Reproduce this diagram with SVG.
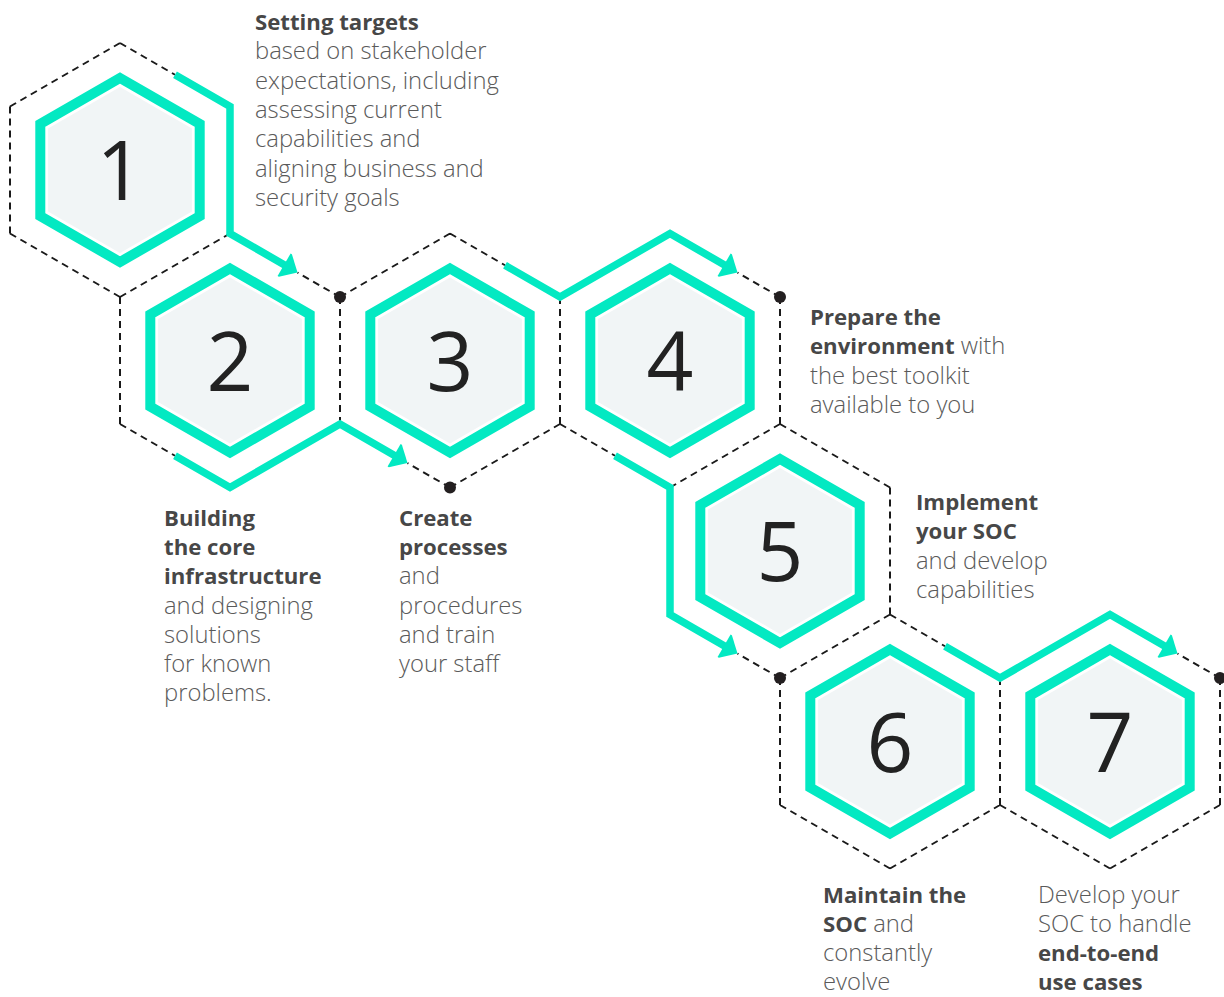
<svg xmlns="http://www.w3.org/2000/svg" width="1224" height="997" viewBox="0 0 1224 997">
  <defs>
    <style>
      .dash { fill: none; stroke: #1a1a1a; stroke-width: 2; stroke-dasharray: 7 5; }
      .ring { fill: none; stroke: #03e9c2; stroke-width: 10; stroke-linejoin: miter; }
      .core { fill: #f1f5f6; }
      .flow { fill: none; stroke: #03e9c2; stroke-width: 7.5; stroke-linejoin: miter; stroke-miterlimit: 10; marker-end: url(#head); }
      .dot { fill: #231f20; }
      .num { font-family: "Open Sans", "Liberation Sans", sans-serif; font-size: 82px; font-weight: 400; fill: #222222; text-anchor: middle; }
      .txt { font-family: "Open Sans", "Liberation Sans", sans-serif; font-size: 23.8px; font-weight: 300; fill: #5a5a5a; }
      .b { font-weight: 700; font-size: 22.2px; fill: #474747; }
    </style>
    <marker id="head" markerUnits="userSpaceOnUse" orient="auto" markerWidth="30" markerHeight="30" refX="0" refY="0" viewBox="-2 -15 18 30" overflow="visible">
      <path d="M-1.5,-13 L0,-13 L14,0 L0,13 L-1.5,13 Z" fill="#03e9c2"/>
    </marker>
    <!-- pointy-top hexagon outlines, centred on the origin -->
    <polygon id="ring" points="0,-92 79.7,-46 79.7,46 0,92 -79.7,46 -79.7,-46"/>
    <polygon id="core" points="0,-83 71.9,-41.5 71.9,41.5 0,83 -71.9,41.5 -71.9,-41.5"/>
  </defs>

  <rect width="1224" height="997" fill="#ffffff"/>

  <!-- dashed honeycomb outline, each shared edge drawn once -->
  <g id="grid">
    <path class="dash" d="M10,106.5 L120,43 M120,43 L175,74.75 M230,233.5 L120,297 M120,297 L10,233.5 M10,233.5 L10,106.5"/>
    <path class="dash" d="M340,297 L297.5,272.5 M340,297 L340,424 M120,297 L120,424 M120,424 L175,455.75"/>
    <path class="dash" d="M340,297 L450,233.5 M450,233.5 L505,265.25 M560,297 L560,424 M560,424 L450,487.5 M450,487.5 L407.5,463"/>
    <path class="dash" d="M780,297 L737.5,272.5 M780,297 L780,424 M780,424 L670,487.5 M560,424 L615,455.75"/>
    <path class="dash" d="M780,424 L890,487.5 M890,487.5 L890,614.5 M890,614.5 L780,678 M780,678 L737.5,653.5"/>
    <path class="dash" d="M890,614.5 L945,646.25 M1000,678 L1000,805 M1000,805 L890,868.5 M890,868.5 L780,805 M780,805 L780,678"/>
    <path class="dash" d="M1220,678 L1177.5,653.5 M1220,678 L1220,805 M1220,805 L1110,868.5 M1110,868.5 L1000,805"/>
  </g>

  <!-- teal flow connectors between steps -->
  <g id="connectors">
    <path class="flow" d="M175,74.75 L230,106.5 L230,233.5 L285.4,265.5"/>
    <path class="flow" d="M175,455.75 L230,487.5 L340,424 L395.4,456"/>
    <path class="flow" d="M505,265.25 L560,297 L670,233.5 L725.4,265.5"/>
    <path class="flow" d="M615,455.75 L670,487.5 L670,614.5 L725.4,646.5"/>
    <path class="flow" d="M945,646.25 L1000,678 L1110,614.5 L1165.4,646.5"/>
    <circle class="dot" cx="340" cy="297" r="6"/>
    <circle class="dot" cx="450" cy="487.5" r="6"/>
    <circle class="dot" cx="780" cy="297" r="6"/>
    <circle class="dot" cx="780" cy="678" r="6"/>
    <circle class="dot" cx="1220" cy="678" r="6"/>
  </g>

  <g id="step1">
    <use href="#ring" class="ring" x="120" y="170"/>
    <use href="#core" class="core" x="120" y="170"/>
    <text class="num" x="120" y="200">1</text>
    <text class="txt" x="255">
      <tspan class="b" x="255" y="30">Setting targets</tspan>
      <tspan x="255" y="59.3">based on stakeholder</tspan>
      <tspan x="255" y="88.6">expectations, including</tspan>
      <tspan x="255" y="117.9">assessing current</tspan>
      <tspan x="255" y="147.2">capabilities and</tspan>
      <tspan x="255" y="176.5">aligning business and</tspan>
      <tspan x="255" y="205.8">security goals</tspan>
    </text>
  </g>

  <g id="step2">
    <use href="#ring" class="ring" x="230" y="360.5"/>
    <use href="#core" class="core" x="230" y="360.5"/>
    <text class="num" x="230" y="390.5">2</text>
    <text class="txt">
      <tspan class="b" x="164" y="526">Building</tspan>
      <tspan class="b" x="164" y="555.2">the core</tspan>
      <tspan class="b" x="164" y="584.4">infrastructure</tspan>
      <tspan x="164" y="613.6">and designing</tspan>
      <tspan x="164" y="642.8">solutions</tspan>
      <tspan x="164" y="672">for known</tspan>
      <tspan x="164" y="701.2">problems.</tspan>
    </text>
  </g>

  <g id="step3">
    <use href="#ring" class="ring" x="450" y="360.5"/>
    <use href="#core" class="core" x="450" y="360.5"/>
    <text class="num" x="450" y="390.5">3</text>
    <text class="txt">
      <tspan class="b" x="399" y="526">Create</tspan>
      <tspan class="b" x="399" y="555.2">processes</tspan>
      <tspan x="399" y="584.4">and</tspan>
      <tspan x="399" y="613.6">procedures</tspan>
      <tspan x="399" y="642.8">and train</tspan>
      <tspan x="399" y="672">your staff</tspan>
    </text>
  </g>

  <g id="step4">
    <use href="#ring" class="ring" x="670" y="360.5"/>
    <use href="#core" class="core" x="670" y="360.5"/>
    <text class="num" x="670" y="390.5">4</text>
    <text class="txt">
      <tspan class="b" x="810" y="325">Prepare the</tspan>
      <tspan class="b" x="810" y="354.3">environment</tspan><tspan> with</tspan>
      <tspan x="810" y="383.6">the best toolkit</tspan>
      <tspan x="810" y="412.9">available to you</tspan>
    </text>
  </g>

  <g id="step5">
    <use href="#ring" class="ring" x="780" y="551"/>
    <use href="#core" class="core" x="780" y="551"/>
    <text class="num" x="780" y="581">5</text>
    <text class="txt">
      <tspan class="b" x="916" y="510">Implement</tspan>
      <tspan class="b" x="916" y="539.3">your SOC</tspan>
      <tspan x="916" y="568.6">and develop</tspan>
      <tspan x="916" y="597.9">capabilities</tspan>
    </text>
  </g>

  <g id="step6">
    <use href="#ring" class="ring" x="890" y="741.5"/>
    <use href="#core" class="core" x="890" y="741.5"/>
    <text class="num" x="890" y="771.5">6</text>
    <text class="txt">
      <tspan class="b" x="823" y="902.5">Maintain the</tspan>
      <tspan class="b" x="823" y="931.7">SOC</tspan><tspan> and</tspan>
      <tspan x="823" y="960.9">constantly</tspan>
      <tspan x="823" y="990.1">evolve</tspan>
    </text>
  </g>

  <g id="step7">
    <use href="#ring" class="ring" x="1110" y="741.5"/>
    <use href="#core" class="core" x="1110" y="741.5"/>
    <text class="num" x="1110" y="771.5">7</text>
    <text class="txt">
      <tspan x="1038" y="902.5">Develop your</tspan>
      <tspan x="1038" y="931.7">SOC to handle</tspan>
      <tspan class="b" x="1038" y="960.9">end-to-end</tspan>
      <tspan class="b" x="1038" y="990.1">use cases</tspan>
    </text>
  </g>
</svg>
